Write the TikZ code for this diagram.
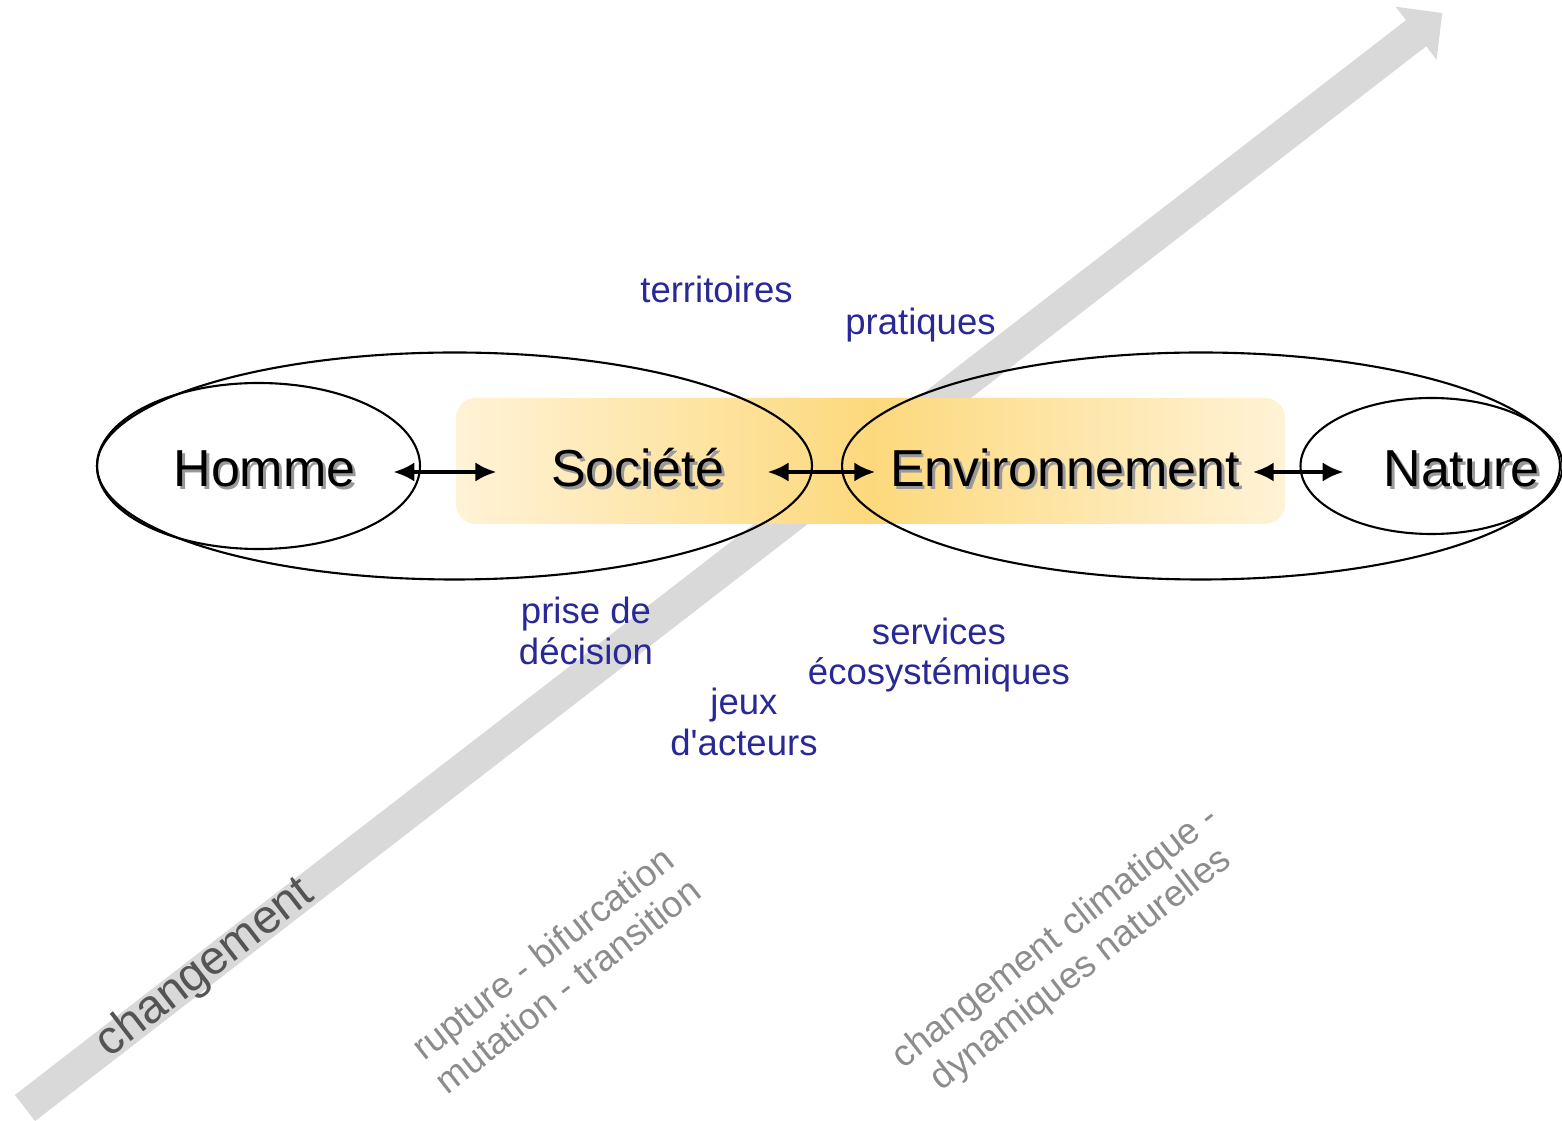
\documentclass[tikz,border=0pt]{standalone}
\usepackage{fontspec}
\setmainfont{Liberation Sans}
\usetikzlibrary{arrows.meta}

\definecolor{bleu}{RGB}{40,40,150}
\definecolor{orclair}{RGB}{255,243,215}
\definecolor{orfonce}{RGB}{253,217,125}
\newcommand{\ombre}[1]{\makebox[0pt][l]{\hspace{0.8pt}\raisebox{-0.8pt}{\textcolor{black!40}{#1}}}#1}

\begin{document}
\begin{tikzpicture}
%	\draw[gray,very thin] (0,0) grid (16,11); % Grid for easy orientation
	\tikzstyle{pole} = [
		inner sep=0pt, anchor=base, text height=0.4cm, text depth=0.1cm,
		font=\fontsize{14.8}{16}\selectfont
	]
	\tikzstyle{etiquette} = [
		text=bleu, align=center, font=\fontsize{10.4}{11.6}\selectfont
	]
	\tikzstyle{evolution} = [
		text=black!45, align=center, rotate=38, font=\fontsize{10.5}{11.6}\selectfont
	]
	\tikzstyle{conn} = [
		{Latex[length=6pt,width=5.5pt]}-{Latex[length=6pt,width=5.5pt]}, line width=1.2pt
	]
	\tikzstyle{contour} = [
		draw=black, semithick
	]

	\useasboundingbox (0,0) rectangle (15.62,11.2);

	% Changement (fleche de fond)
	\begin{scope}[shift={(0.25,0.12)}, rotate=37.69]
		\fill[black!15] (0,-0.165) -- (17.58,-0.165) -- (17.58,-0.335) -- (17.91,0)
			-- (17.58,0.335) -- (17.58,0.165) -- (0,0.165) -- cycle;
		\node (chg) [rotate=37.69, text=black!67, font=\fontsize{13.5}{16}\selectfont] at (2.28,0) {changement};
	\end{scope}

	% Bande Societe - Environnement
	\shade[left color=orclair, right color=orclair, middle color=orfonce, rounded corners=0.2cm]
		(4.56,5.96) rectangle (12.85,7.22);

	% Ellipses
	\draw[contour] (4.545,6.54) ellipse (3.575 and 1.135);
	\draw[contour] (2.585,6.54) ellipse (1.615 and 0.83);
	\draw[contour] (12.01,6.54) ellipse (3.59 and 1.135);
	\draw[contour] (14.315,6.54) ellipse (1.31 and 0.68);

	% Poles
	\node (homme) [pole] at (2.645,6.33) {\ombre{Homme}};
	\node (societe) [pole] at (6.38,6.33) {\ombre{Société}};
	\node (environnement) [pole] at (10.65,6.33) {\ombre{Environnement}};
	\node (nature) [pole] at (14.615,6.33) {\ombre{Nature}};

	% Liens
	\draw[conn, shorten <=0.37cm, shorten >=0.54cm] (homme) -- (societe);
	\draw[conn, shorten <=0.42cm, shorten >=0.14cm] (societe) -- (environnement);
	\draw[conn, shorten <=0.12cm, shorten >=0.39cm] (environnement) -- (nature);

	% Etiquettes
	\node (territoires) [etiquette, anchor=base] at (7.165,8.17) {territoires};
	\node (pratiques) [etiquette, anchor=base] at (9.205,7.85) {pratiques};
	\node (decision) [etiquette] at (5.86,4.89) {prise de\\décision};
	\node (services) [etiquette] at (9.39,4.65) {services\\écosystémiques};
	\node (jeux) [etiquette] at (7.44,3.98) {jeux\\d\textquotesingle acteurs};

	% Types de changement
	\node (rupture) [evolution] at (5.55,1.51) {rupture - bifurcation\\mutation - transition};
	\node (climat) [evolution] at (10.69,1.66) {changement climatique -\\dynamiques naturelles};

\end{tikzpicture}
\end{document}
